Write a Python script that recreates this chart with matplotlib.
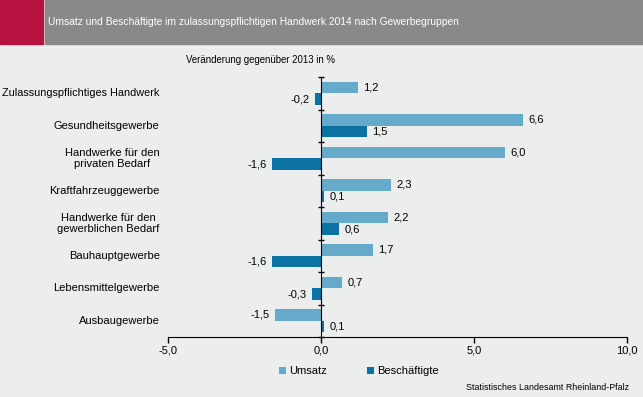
import numpy as np
import matplotlib
matplotlib.use('Agg')
import matplotlib.pyplot as plt
from matplotlib import font_manager
from matplotlib.patches import Rectangle
import matplotlib.transforms as mtransforms

### data
categories = ['Zulassungspflichtiges Handwerk', 'Gesundheitsgewerbe',
              'Handwerke für den\nprivaten Bedarf', 'Kraftfahrzeuggewerbe',
              'Handwerke für den\ngewerblichen Bedarf', 'Bauhauptgewerbe',
              'Lebensmittelgewerbe', 'Ausbaugewerbe']
umsatz = [1.2, 6.6, 6.0, 2.3, 2.2, 1.7, 0.7, -1.5]
beschaeftigte = [-0.2, 1.5, -1.6, 0.1, 0.6, -1.6, -0.3, 0.1]
xticks = [-5, 0, 5, 10]

### no narrow font installed -> header texts just a bit smaller
names = set(f.name for f in font_manager.fontManager.ttflist)
narrow = 'Liberation Sans Narrow' if 'Liberation Sans Narrow' in names else 'Liberation Sans'
small = 9 if narrow != 'Liberation Sans' else 7.4
plt.rcParams['font.family'] = ['Liberation Sans', 'DejaVu Sans']

bg = '#ECEDED'
c_ums = '#66AACB'
c_bes = '#0B72A2'

fig = plt.figure(figsize=(6.43, 3.97), dpi=100, facecolor=bg)

# header band
fig.patches.append(Rectangle((0, 1 - 44/397), 43/643, 44/397, transform=fig.transFigure,
                             color='#B5123F', zorder=0))
fig.patches.append(Rectangle((45/643, 1 - 44/397), 598/643, 44/397, transform=fig.transFigure,
                             color='#898989', zorder=0))
fig.text(48/643, 1 - 22/397,
         'Umsatz und Beschäftigte im zulassungspflichtigen Handwerk 2014 nach Gewerbegruppen',
         color='white', fontsize=small, family=narrow, va='center', ha='left')
fig.text(261/643, 1 - 60/397, 'Veränderung gegenüber 2013 in %', fontsize=6.9, family=narrow,
         ha='center', va='center')

ax = fig.add_axes([168/643, 1 - 337/397, 459/643, 260/397])
ax.set_facecolor('none')

y = np.arange(len(categories))
h = 0.36
ax.barh(y - 0.18, umsatz, height=h, color=c_ums, label='Umsatz')
ax.barh(y + 0.18, beschaeftigte, height=h, color=c_bes, label='Beschäftigte')

def fmt(v):
    return f'{v:.1f}'.replace('.', ',')

for yi, vals in [(y - 0.18, umsatz), (y + 0.18, beschaeftigte)]:
    for yy, v in zip(yi, vals):
        if v >= 0:
            ax.annotate(fmt(v), (v, yy), xytext=(4, 0), textcoords='offset points',
                        ha='left', va='center', fontsize=8)
        else:
            ax.annotate(fmt(v), (v, yy), xytext=(-4, 0), textcoords='offset points',
                        ha='right', va='center', fontsize=8)

ax.set_xlim(-5, 10)
ax.set_ylim(len(categories) - 0.5, -0.5)
ax.set_xticks(xticks)
ax.set_xticklabels([fmt(t) for t in xticks], fontsize=8)
ax.tick_params(axis='x', direction='out', length=4, width=1, pad=2)

# y axis sits at zero, ticks between the groups
ax.spines['left'].set_position(('data', 0))
ax.spines['right'].set_visible(False)
ax.spines['top'].set_visible(False)
ax.set_yticks(np.arange(len(categories) + 1) - 0.5)
ax.set_yticklabels([])
ax.tick_params(axis='y', direction='inout', length=5, width=1)

# category labels at the left of the plot area
trans = mtransforms.blended_transform_factory(ax.transAxes, ax.transData)
for yy, lab in zip(y, categories):
    if yy == 0:
        # the long one starts right at the left border
        ax.text(-166/459, yy, lab, transform=trans, ha='left', va='center',
                fontsize=7.8)
    else:
        ax.text(-0.018, yy, lab, transform=trans, ha='right', va='center',
                multialignment='center', fontsize=8, linespacing=1.1)

fig.legend(loc='center', bbox_to_anchor=(359/643, 1 - 371/397), ncol=2, frameon=False,
           fontsize=8, handlelength=0.6, handleheight=0.6, handletextpad=0.3,
           columnspacing=3.6)

fig.text(629/643, 1 - 388/397, 'Statistisches Landesamt Rheinland-Pfalz', fontsize=6.4,
         family=narrow, ha='right', va='center')

fig.savefig('out.png', dpi=100, facecolor=bg)
